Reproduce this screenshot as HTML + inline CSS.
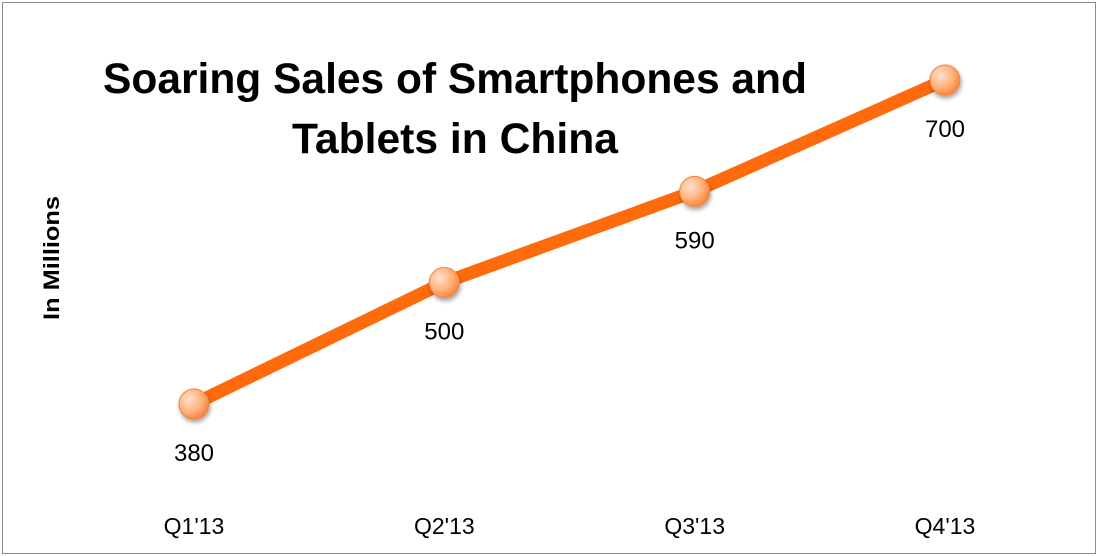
<!DOCTYPE html>
<html><head><meta charset="utf-8"><style>
html,body{margin:0;padding:0;background:#fff;}
svg{display:block;font-family:"Liberation Sans",sans-serif;}
</style></head><body>
<svg id="chart" width="1098" height="556">
<defs>
<radialGradient id="mg" cx="35%" cy="35%" r="70%">
<stop offset="0" stop-color="#ffe2cc"/><stop offset="0.6" stop-color="#ffb07a"/><stop offset="1" stop-color="#f7823a"/>
</radialGradient>
<filter id="sh" x="-50%" y="-50%" width="200%" height="200%"><feDropShadow dx="1" dy="3" stdDeviation="2" flood-color="#000" flood-opacity="0.35"/></filter>
</defs>
<rect x="2.5" y="2.5" width="1093" height="551" fill="#fff" stroke="#8c8c8c"/>
<text x="455" y="93" font-size="43" font-weight="bold" text-anchor="middle" textLength="704" lengthAdjust="spacingAndGlyphs">Soaring Sales of Smartphones and</text>
<text x="455" y="153" font-size="43" font-weight="bold" text-anchor="middle" textLength="326" lengthAdjust="spacingAndGlyphs">Tablets in China</text>
<text transform="translate(59,258) rotate(-90)" font-size="22" font-weight="bold" text-anchor="middle" textLength="124" lengthAdjust="spacingAndGlyphs">In Millions</text>
<g id="marks"></g>
</svg>
<script>
const categories = ["Q1'13","Q2'13","Q3'13","Q4'13"];
const values = [380,500,590,700];
const labels = ["380","500","590","700"];
const svg = document.getElementById('marks');
const NS = 'http://www.w3.org/2000/svg';
function xPos(i){ return 194 + i*(945-194)/(categories.length-1); }
function yPos(v){ return 404 - (v-380)*(404-80)/(700-380); }
const pts = values.map((v,i)=>xPos(i)+','+yPos(v)).join(' ');
const line = document.createElementNS(NS,'polyline');
line.setAttribute('points',pts);
line.setAttribute('fill','none');
line.setAttribute('stroke','#ff6a0d');
line.setAttribute('stroke-width','13');
line.setAttribute('stroke-linejoin','round');


svg.appendChild(line);
values.forEach((v,i)=>{
  const c = document.createElementNS(NS,'circle');
  c.setAttribute('cx',xPos(i)); c.setAttribute('cy',yPos(v)); c.setAttribute('r','15');
  c.setAttribute('fill','url(#mg)'); c.setAttribute('stroke','#f7823a'); c.setAttribute('filter','url(#sh)');
  
  
  svg.appendChild(c);
  const t = document.createElementNS(NS,'text');
  t.setAttribute('x',xPos(i)); t.setAttribute('y',yPos(v)+57);
  t.setAttribute('font-size','24'); t.setAttribute('text-anchor','middle');
  t.textContent = labels[i];
  
  
  svg.appendChild(t);
  const xl = document.createElementNS(NS,'text');
  xl.setAttribute('x',xPos(i)); xl.setAttribute('y',534);
  xl.setAttribute('font-size','23'); xl.setAttribute('text-anchor','middle');
  xl.textContent = categories[i];
  
  
  svg.appendChild(xl);
});
</script>
</body></html>
